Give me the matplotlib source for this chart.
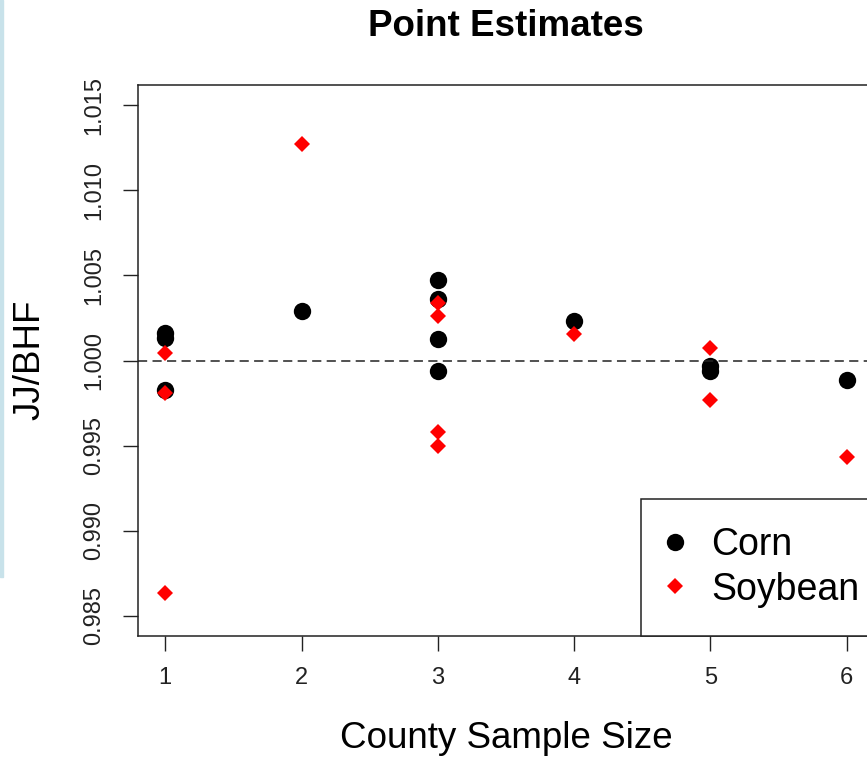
import matplotlib
matplotlib.use("Agg")
import matplotlib.pyplot as plt
from matplotlib.lines import Line2D
from matplotlib.patches import Rectangle

plt.rcParams['font.family'] = ['Liberation Sans', 'DejaVu Sans']

# point estimates by county sample size
corn_x = [1, 1, 1, 2, 3, 3, 3, 3, 4, 5, 5, 6]
corn_y = [1.00162, 1.00135, 0.99826, 1.0029, 1.00476, 1.00363, 1.00124,
          0.99937, 1.00235, 0.9997, 0.99941, 0.99888]
soy_x = [1, 1, 1, 2, 3, 3, 3, 3, 4, 5, 5, 6]
soy_y = [1.00043, 0.9981, 0.98635, 1.01276, 1.00337, 1.00259, 0.99578,
         0.99496, 1.00153, 1.00074, 0.99765, 0.99435]
x_ticks = [1, 2, 3, 4, 5, 6]
y_ticks = [0.985, 0.990, 0.995, 1.000, 1.005, 1.010, 1.015]

W, H = 867, 760
fig = plt.figure(figsize=(W / 100, H / 100), dpi=100)
ax = fig.add_axes([138 / W, (H - 636) / H, (874 - 138) / W, (636 - 85) / H])

ax.plot(corn_x, corn_y, 'o', color='black', ms=12.5, mew=0)
ax.plot(soy_x, soy_y, 'D', color='red', ms=8.5, mew=0)
ax.axhline(1.0, color='#222222', lw=1.1, dashes=(6, 3.5))

ax.set_xlim(0.8, 6.2)
ax.set_ylim(0.9838, 1.0162)
ax.set_xticks(x_ticks)
ax.set_xticklabels([str(v) for v in x_ticks])
ax.set_yticks(y_ticks)
ax.set_yticklabels(['%.3f' % v for v in y_ticks], rotation=90, va='center')
ax.tick_params(axis='both', length=10.5, width=1, color='#222222',
               labelsize=17, labelcolor='#222222')
ax.tick_params(axis='y', pad=13)
ax.tick_params(axis='x', pad=12)
for s in ax.spines.values():
    s.set_linewidth(1.1)
    s.set_color('#222222')

handles = [Line2D([], [], ls='', marker='o', color='black', ms=12.5, mew=0),
           Line2D([], [], ls='', marker='D', color='red', ms=8.5, mew=0)]
leg = ax.legend(handles, ['Corn', 'Soybean'], loc='lower right',
                bbox_to_anchor=(1 + 14 / 736, 0), borderaxespad=0,
                fontsize=27, fancybox=False, handlelength=0.3,
                handletextpad=0.83, borderpad=0.76, labelspacing=0.22,
                framealpha=1)
leg.get_frame().set_edgecolor('#222222')
leg.get_frame().set_linewidth(1.1)

fig.text(506 / W, 1 - 27 / H, 'Point Estimates', ha='center', va='center',
         fontsize=26.5, fontweight='bold')
fig.text(506 / W, 1 - 738 / H, 'County Sample Size', ha='center',
         va='center', fontsize=26.5)
fig.text(30 / W, 1 - 360 / H, 'JJ/BHF', ha='center', va='center',
         rotation=90, fontsize=26.5)

fig.patches.append(Rectangle((0, 1 - 577 / H), 2.5 / W, 577 / H,
                             transform=fig.transFigure, color='#c8e2ea',
                             zorder=5))

fig.savefig('out.png', dpi=100)
